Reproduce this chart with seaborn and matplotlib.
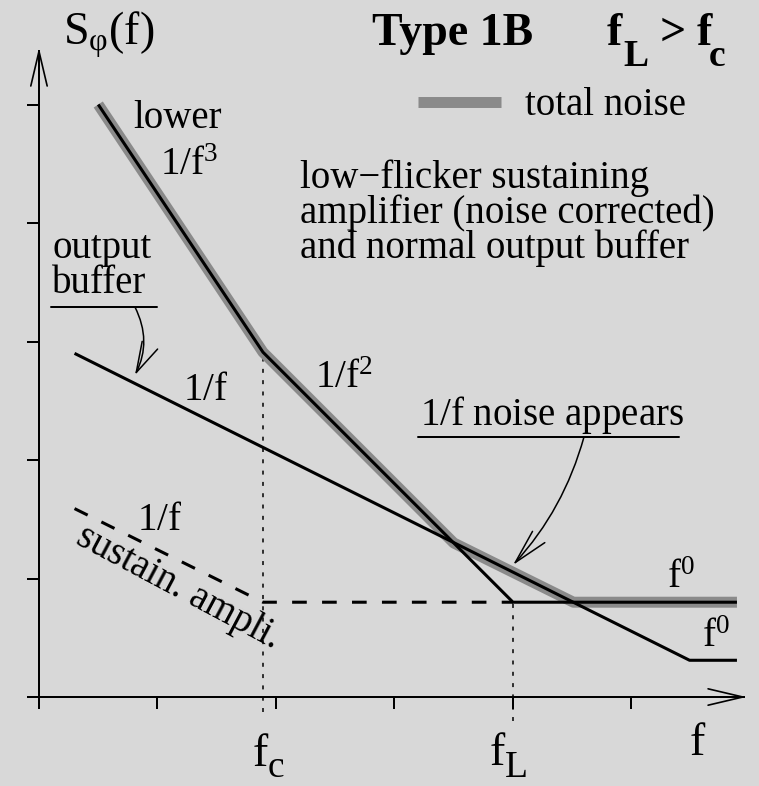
import matplotlib
matplotlib.use("Agg")
import matplotlib.pyplot as plt
from matplotlib.lines import Line2D
import seaborn as sns

# Break frequencies on the log-log sketch (one tick = one step)
fc = 1.89
fL = 4.00

# Oscillator with low-flicker sustaining amplifier: 1/f^3 -> 1/f^2 -> f^0
osc_f = [0.50, fc, fL, 5.89]
osc_S = [5.00, 2.91, 0.80, 0.80]

# Normal output buffer: 1/f -> f^0
buf_f = [0.30, 5.49, 5.89]
buf_S = [2.90, 0.31, 0.31]

# Sustaining amplifier alone: 1/f -> f^0
amp_f = [0.30, fc, fL]
amp_S = [1.59, 0.80, 0.80]

# Total noise envelope
tot_f = [0.50, fc, 3.50, 4.51, 5.89]
tot_S = [5.00, 2.91, 1.30, 0.80, 0.80]

xticks = [0, 1, 2, 3, 4, 5]
yticks = [0, 1, 2, 3, 4, 5]

BG = "#d8d8d8"
GRAY = "#8a8a8a"

sns.set_theme(style="white", rc={"figure.facecolor": BG, "axes.facecolor": BG,
                                 "savefig.facecolor": BG, "text.color": "black"})
plt.rcParams["font.family"] = ["Liberation Serif", "DejaVu Serif"]
plt.rcParams["mathtext.fontset"] = "custom"
plt.rcParams["mathtext.rm"] = "Liberation Serif"
plt.rcParams["mathtext.it"] = "Liberation Serif:italic"
plt.rcParams["mathtext.bf"] = "Liberation Serif:bold"

fig = plt.figure(figsize=(7.59, 7.86), dpi=100)
ax = fig.add_axes([0, 0, 1, 1])
ax.set_xlim(-0.329, 6.076)
ax.set_ylim(-0.751, 5.882)

# total noise (thick gray underlay)
sns.lineplot(x=tot_f, y=tot_S, sort=False, estimator=None, color=GRAY,
             linewidth=7.9, solid_capstyle="butt", ax=ax, zorder=2)

# component spectra
sns.lineplot(x=osc_f, y=osc_S, sort=False, estimator=None, color="black",
             linewidth=2.2, solid_capstyle="butt", ax=ax, zorder=3)
sns.lineplot(x=buf_f, y=buf_S, sort=False, estimator=None, color="black",
             linewidth=2.2, solid_capstyle="butt", ax=ax, zorder=3)
sns.lineplot(x=amp_f, y=amp_S, sort=False, estimator=None, color="black",
             linewidth=2.2, linestyle=(0, (4.8, 5.0)), dash_capstyle="butt",
             ax=ax, zorder=3)

# corner frequency markers
ax.vlines(fc, -0.13, osc_S[1], colors="black", linewidth=1.1,
          linestyles=(0, (2.6, 4.8)), zorder=1)
ax.vlines(fL, -0.20, amp_S[-1], colors="black", linewidth=1.1,
          linestyles=(0, (2.6, 4.8)), zorder=1)

# axes as arrows
for side in ["top", "right"]:
    ax.spines[side].set_visible(False)
ax.spines["left"].set_position(("data", 0))
ax.spines["bottom"].set_position(("data", 0))
ax.spines["left"].set_bounds(0, 5.45)
ax.spines["bottom"].set_bounds(0, 5.95)
for side in ["left", "bottom"]:
    ax.spines[side].set_linewidth(1.44)
    ax.spines[side].set_color("black")
ax.set_xticks(xticks)
ax.set_yticks(yticks)
ax.set_xticklabels([])
ax.set_yticklabels([])
ax.tick_params(axis="both", direction="out", length=8.3, width=1.44,
               color="black", bottom=True, left=True)
head = dict(arrowstyle="->,head_length=2.5,head_width=0.59", mutation_scale=10,
            lw=1.2, color="black", shrinkA=0, shrinkB=0)
ax.annotate("", xy=(0, 5.48), xytext=(0, 5.0), arrowprops=head)
ax.annotate("", xy=(5.97, 0), xytext=(5.5, 0), arrowprops=head)

BIG = 33
MID = 28
SUB = 27

def label(x, y, s, size=MID, **kw):
    ax.text(x, y, s, fontsize=size, ha="left", va="baseline", color="black", **kw)

# title and axis names
label(0.203, 5.502, r"$\mathrm{S_{\varphi}(f)}$", BIG)
label(2.81, 5.502, "Type 1B", BIG, fontweight="bold")
label(4.793, 5.502, "f", BIG, fontweight="bold")
label(4.928, 5.325, "L", SUB, fontweight="bold")
label(5.241, 5.502, ">", BIG, fontweight="bold")
label(5.553, 5.502, "f", BIG, fontweight="bold")
label(5.654, 5.325, "c", SUB, fontweight="bold")

label(5.494, -0.49, "f", BIG)
label(1.806, -0.585, "f", BIG)
label(1.932, -0.672, "c", SUB)
label(3.806, -0.575, "f", BIG)
label(3.932, -0.672, "L", SUB)

# legend
ax.legend(handles=[Line2D([], [], color=GRAY, lw=7.9, solid_capstyle="butt")],
          labels=["total noise"], loc="center left",
          bbox_to_anchor=(3.198, 4.99), bbox_transform=ax.transData,
          frameon=False, fontsize=MID, handlelength=2.13, handletextpad=0.62,
          borderpad=0, borderaxespad=0, labelcolor="black")

desc = ["low\u2212flicker sustaining",
        "amplifier (noise corrected)",
        "and normal output buffer"]
for i, line in enumerate(desc):
    label(2.203, 4.295 - 0.295 * i, line)

# slope annotations
label(0.793, 4.80, "lower")
label(1.021, 4.405, r"$\mathrm{1/f^{3}}$")
label(2.329, 2.608, r"$\mathrm{1/f^{2}}$")
label(1.215, 2.506, r"$\mathrm{1/f}$")
label(0.827, 1.409, r"$\mathrm{1/f}$")
label(5.30, 0.92, r"$\mathrm{f^{0}}$")
label(5.595, 0.422, r"$\mathrm{f^{0}}$")

ax.text(1.173, 0.92, "sustain. ampli.", fontsize=MID, rotation=-28,
        rotation_mode="anchor", ha="center", va="center", color="black")

# output buffer callout
label(0.11, 3.705, "output")
label(0.11, 3.409, "buffer")
ax.plot([0.101, 0.996], [3.291, 3.291], color="black", lw=1.44)
ax.annotate("", xy=(0.81, 2.717), xytext=(0.81, 3.291),
            arrowprops=dict(arrowstyle="->,head_length=2.2,head_width=0.62",
                            mutation_scale=10, lw=1.1, color="black",
                            shrinkA=0, shrinkB=0,
                            connectionstyle="arc3,rad=-0.25"))

# 1/f noise callout
label(3.215, 2.295, r"$\mathrm{1/f}$ noise appears")
ax.plot([3.198, 5.40], [2.194, 2.194], color="black", lw=1.44)
ax.annotate("", xy=(4.0, 1.114), xytext=(4.599, 2.194),
            arrowprops=dict(arrowstyle="->,head_length=2.5,head_width=0.6",
                            mutation_scale=10, lw=1.1, color="black",
                            shrinkA=0, shrinkB=0,
                            connectionstyle="arc3,rad=-0.12"))

fig.savefig("out.png", dpi=100)
